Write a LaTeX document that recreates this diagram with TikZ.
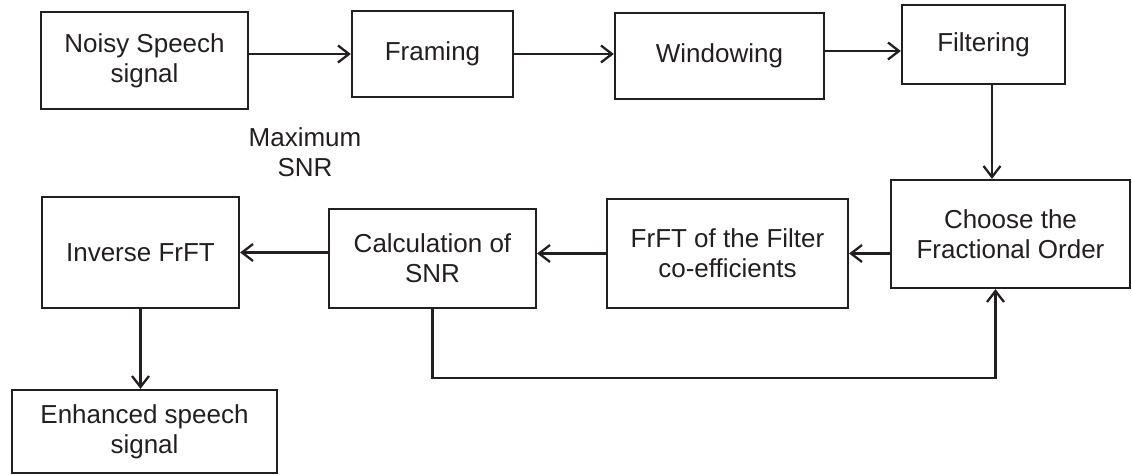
\documentclass[tikz,border=0pt]{standalone}
\usepackage{fontspec}
\setmainfont{Liberation Sans}
\usetikzlibrary{positioning, calc, arrows.meta}
\definecolor{ink}{RGB}{35,31,32}

\begin{document}
\begin{tikzpicture}[x=0.5pt, y=-0.5pt, line width=1.15pt, color=ink,
    block/.style={draw, rectangle, align=center, inner sep=0pt,
        font=\fontsize{13}{15}\selectfont},
    flow/.style={-{Straight Barb[length=5.5pt, width=8.5pt]}}]

        \useasboundingbox (0,0) rectangle (1132,475);

        % ===================================================
        % 1. TOP ROW (signal preparation)
        % ===================================================
        \node[block, minimum width=103.5pt, minimum height=48.5pt] (noisy) at (144.5, 60.5) {Noisy Speech\\signal};
        \node[block, minimum width=80.5pt, minimum height=43pt] (framing) at (432.5, 54) {Framing};
        \node[block, minimum width=104.5pt, minimum height=43pt] (windowing) at (719.5, 56) {Windowing};
        \node[block, minimum width=81.5pt, minimum height=39.5pt] (filtering) at (983.5, 44.5) {Filtering};

        % free label
        \node[align=center, font=\fontsize{13}{15}\selectfont] (maxsnr) at (305, 152) {Maximum\\SNR};

        % ===================================================
        % 2. MIDDLE ROW (FrFT processing)
        % ===================================================
        \node[block, minimum width=119.5pt, minimum height=54pt] (choose) at (1010.5, 234) {Choose the\\Fractional Order};
        \node[block, minimum width=120.5pt, minimum height=54.5pt] (frft) at (727.5, 253.5) {FrFT of the Filter\\co-efficients};
        \node[block, minimum width=103.5pt, minimum height=49.5pt] (calc) at (432.5, 258.5) {Calculation of\\SNR};
        \node[block, minimum width=98.5pt, minimum height=55.5pt] (inverse) at (140.5, 252.5) {Inverse FrFT};

        % ===================================================
        % 3. OUTPUT
        % ===================================================
        \node[block, minimum width=132.5pt, minimum height=41.5pt] (enhanced) at (144.5, 431.5) {Enhanced speech\\signal};

        % Connections along the top row
        \draw[flow] (framing.west -| noisy.east) -- (framing.west);
        \draw[flow] (framing.east) -- (framing.east -| windowing.west);
        \draw[flow] ([yshift=2.5pt]windowing.east) -- ([yshift=2.5pt]windowing.east -| filtering.west);

        % Down into the fractional order block
        \draw[flow] ([xshift=4.25pt]filtering.south) -- ([xshift=4.25pt]filtering.south |- choose.north);

        % Middle row, right to left
        \draw[flow] (frft.east -| choose.west) -- (frft.east);
        \draw[flow] (frft.west) -- (frft.west -| calc.east);
        \draw[flow] (inverse.east -| calc.west) -- (inverse.east);

        % Output
        \draw[flow] (inverse.south) -- (inverse.south |- enhanced.north);

        % Feedback loop back to the order choice
        \draw[flow] (calc.south) -- ++(0, 69) -| ([xshift=-7.5pt]choose.south);

    \end{tikzpicture}
\end{document}
